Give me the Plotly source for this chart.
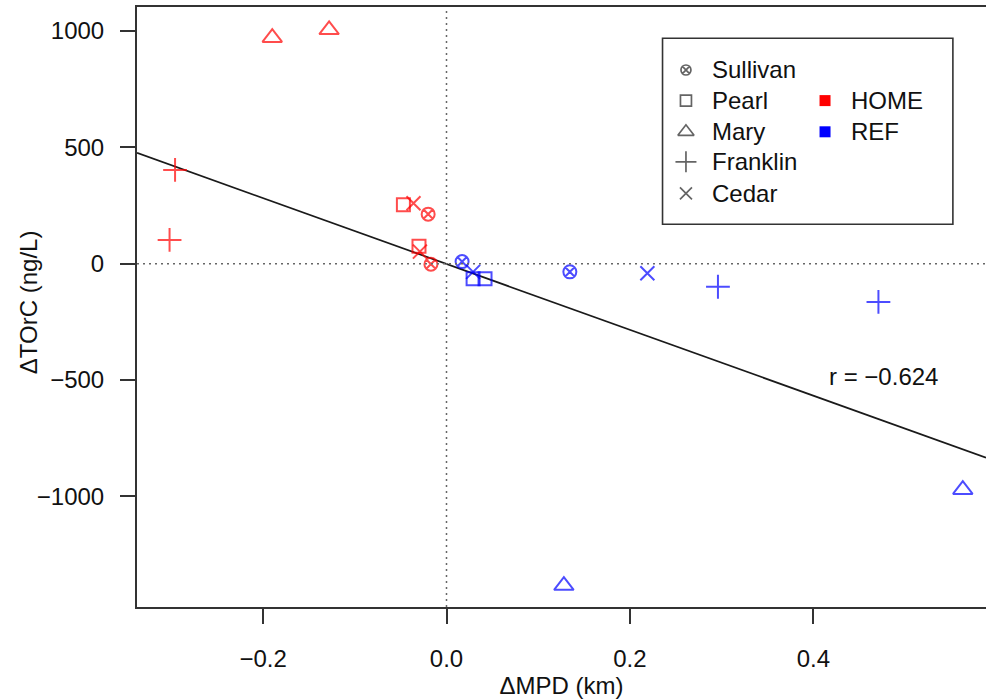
import plotly.graph_objects as go

# ---------------- data ----------------
sites = ["Sullivan", "Pearl", "Mary", "Franklin", "Cedar"]

home_site = ["Sullivan", "Sullivan", "Pearl", "Pearl", "Mary", "Mary",
             "Franklin", "Franklin", "Cedar", "Cedar"]
home_x = [-0.020, -0.017, -0.047, -0.030, -0.190, -0.128, -0.296, -0.302, -0.036, -0.029]
home_y = [213, -2, 253, 75, 971, 1005, 403, 102, 260, 52]

ref_site = ["Sullivan", "Sullivan", "Pearl", "Pearl", "Mary", "Mary",
            "Franklin", "Franklin", "Cedar", "Cedar"]
ref_x = [0.017, 0.1345, 0.029, 0.042, 0.128, 0.563, 0.296, 0.471, 0.029, 0.219]
ref_y = [9, -35, -65, -65, -1383, -971, -99, -164, -35, -41]

fit_intercept = -1.0
fit_slope = -1415.0
r_label = "r = \u22120.624"

x_ticks = [-0.2, 0.0, 0.2, 0.4]
x_ticklabels = ["\u22120.2", "0.0", "0.2", "0.4"]
y_ticks = [-1000, -500, 0, 500, 1000]
y_ticklabels = ["\u22121000", "\u2212500", "0", "500", "1000"]

group_names = ["HOME", "REF"]
group_colors = ["#ff0000", "#0000ff"]

# ---------------- styles ----------------
symbol_map = {"Sullivan": "circle-x-open", "Pearl": "square-open",
              "Mary": "triangle-up-open", "Franklin": "cross-thin-open",
              "Cedar": "x-thin-open"}
size_map = {"Sullivan": 13, "Pearl": 13, "Mary": 17, "Franklin": 17, "Cedar": 14}
leg_size_map = {"Sullivan": 10, "Pearl": 11, "Mary": 14, "Franklin": 15, "Cedar": 12}

FONT = "Liberation Sans, Arial, Helvetica, sans-serif"
XR = [-0.3375, 0.5883]
YR = [-1475, 1103]

fig = go.Figure()

# regression line
fig.add_trace(go.Scatter(
    x=XR, y=[fit_intercept + fit_slope * v for v in XR], mode="lines",
    line=dict(color="#1a1a1a", width=1.7), showlegend=False, hoverinfo="skip"))

for xs, ys, ss, col in [(home_x, home_y, home_site, group_colors[0]),
                        (ref_x, ref_y, ref_site, group_colors[1])]:
    fig.add_trace(go.Scatter(
        x=xs, y=ys, mode="markers", showlegend=False,
        marker=dict(symbol=[symbol_map[s] for s in ss],
                    size=[size_map[s] for s in ss],
                    color=col, line=dict(color=col, width=2))))

# manual legend (overlay axes in plot-area fraction)
leg_sym_x = 0.6466
leg_txt_x = 0.675
leg_rows = [0.895, 0.844, 0.792, 0.742, 0.6895]
grp_sym_x = 0.8104
grp_txt_x = 0.8386

fig.add_trace(go.Scatter(
    x=[leg_sym_x] * len(sites), y=leg_rows, xaxis="x2", yaxis="y2",
    mode="markers", showlegend=False, hoverinfo="skip",
    marker=dict(symbol=[symbol_map[s] for s in sites],
                size=[leg_size_map[s] for s in sites],
                color="#222222", line=dict(color="#222222", width=1.7))))
fig.add_trace(go.Scatter(
    x=[grp_sym_x] * 2, y=leg_rows[1:3], xaxis="x2", yaxis="y2",
    mode="markers", showlegend=False, hoverinfo="skip",
    marker=dict(symbol="square", size=11, color=group_colors,
                line=dict(width=0))))

annotations = []
for s, yy in zip(sites, leg_rows):
    annotations.append(dict(x=leg_txt_x, y=yy, xref="paper", yref="paper", text=s,
                            showarrow=False, xanchor="left", yanchor="middle",
                            font=dict(family=FONT, size=24, color="#111111")))
for g, yy in zip(group_names, leg_rows[1:3]):
    annotations.append(dict(x=grp_txt_x, y=yy, xref="paper", yref="paper", text=g,
                            showarrow=False, xanchor="left", yanchor="middle",
                            font=dict(family=FONT, size=24, color="#111111")))
annotations.append(dict(x=0.4144, y=-486, xref="x", yref="y", text=r_label,
                        showarrow=False, xanchor="left", yanchor="middle",
                        font=dict(family=FONT, size=24, color="#111111")))
# y-axis title
annotations.append(dict(x=-0.1284, y=0.508, xref="paper", yref="paper",
                        text="\u0394TOrC (ng/L)", textangle=-90, showarrow=False,
                        xanchor="center", yanchor="middle",
                        font=dict(family=FONT, size=24, color="#111111")))

shapes = [
    dict(type="line", xref="x", yref="paper", x0=0, x1=0, y0=0, y1=1,
         line=dict(color="#666666", width=1.5, dash="2px,4px")),
    dict(type="line", xref="paper", yref="y", x0=0, x1=1, y0=0, y1=0,
         line=dict(color="#666666", width=1.5, dash="2px,4px")),
    dict(type="rect", xref="paper", yref="paper", x0=0.619, x1=0.961,
         y0=0.638, y1=0.948, line=dict(color="#333333", width=1.6),
         fillcolor="rgba(0,0,0,0)"),
]

fig.update_layout(
    width=986, height=699,
    margin=dict(l=137, r=0, t=7, b=92, pad=0),
    paper_bgcolor="white", plot_bgcolor="white",
    font=dict(family=FONT, size=24, color="#111111"),
    annotations=annotations, shapes=shapes,
    xaxis=dict(range=XR, tickvals=x_ticks, ticktext=x_ticklabels,
               showgrid=False, zeroline=False, showline=True, mirror=True,
               linecolor="#333333", linewidth=2, ticks="outside", ticklen=15,
               tickwidth=1.6, tickcolor="#333333", ticklabelstandoff=14,
               tickfont=dict(size=24),
               title=dict(text="\u0394MPD (km)", font=dict(size=24), standoff=2)),
    yaxis=dict(range=YR, tickvals=y_ticks, ticktext=y_ticklabels,
               showgrid=False, zeroline=False, showline=True, mirror=False,
               linecolor="#333333", linewidth=2, ticks="outside", ticklen=15,
               tickwidth=1.6, tickcolor="#333333", ticklabelstandoff=11,
               tickfont=dict(size=24)),
    xaxis2=dict(range=[0, 1], overlaying="x", visible=False, fixedrange=True),
    yaxis2=dict(range=[0, 1], overlaying="y", visible=False, fixedrange=True),
)

fig.write_html("out.html",
               config={"displayModeBar": False},
               post_script="document.body.style.margin='0px';document.body.style.overflow='hidden';")
